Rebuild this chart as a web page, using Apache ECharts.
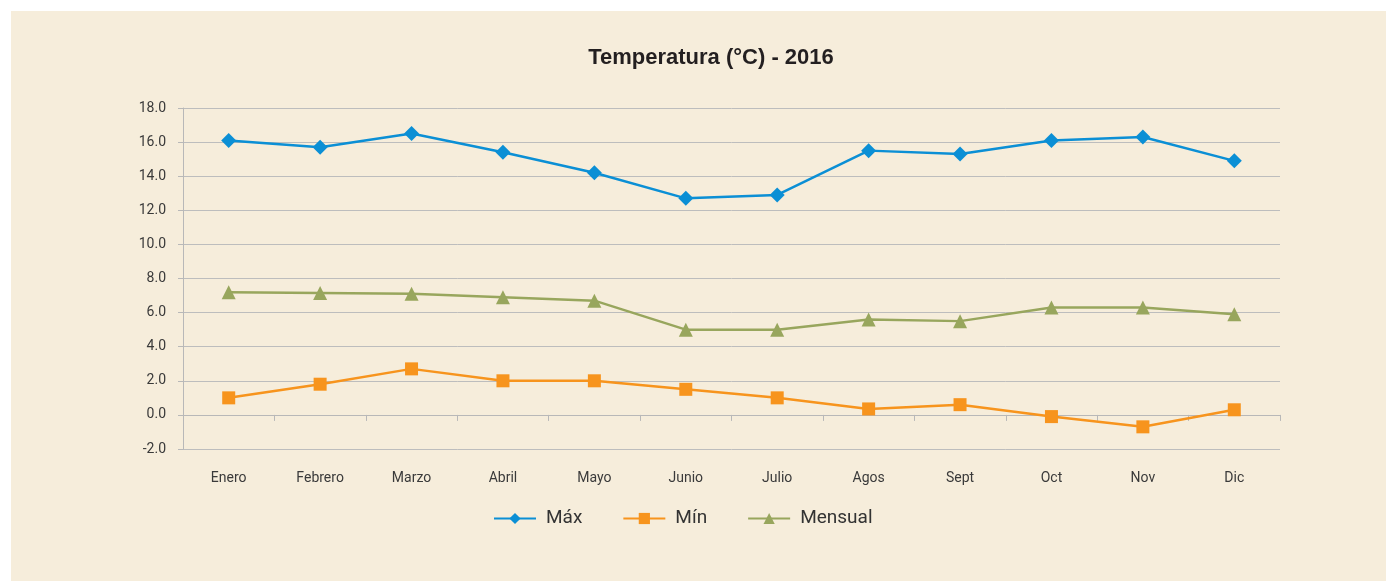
<!DOCTYPE html>
<html>
<head>
<meta charset="utf-8">
<title>Temperatura 2016</title>
<script src="https://cdn.jsdelivr.net/npm/echarts@6/dist/echarts.min.js"></script>
<style>
  html, body { margin: 0; padding: 0; background: #ffffff; overflow: hidden; }
  #chart { position: absolute; left: 0; top: 0; width: 1386px; height: 581px; }
</style>
</head>
<body>
<div id="chart"></div>
<script>
// meses
var months = ["Enero", "Febrero", "Marzo", "Abril", "Mayo", "Junio", "Julio", "Agos", "Sept", "Oct", "Nov", "Dic"];
// temperaturas (°C)
var tMax = [16.1, 15.7, 16.5, 15.4, 14.2, 12.7, 12.9, 15.5, 15.3, 16.1, 16.3, 14.9];
var tMin = [1.0, 1.8, 2.7, 2.0, 2.0, 1.5, 1.0, 0.35, 0.6, -0.1, -0.7, 0.3];
var tMensual = [7.2, 7.15, 7.1, 6.9, 6.7, 5.0, 5.0, 5.6, 5.5, 6.3, 6.3, 5.9];

var myChart = echarts.init(document.getElementById("chart"));

var labelFont = "Roboto, 'Liberation Sans', sans-serif";

var option = {
  animation: false,
  backgroundColor: "#ffffff",
  // recuadro beige de fondo
  graphic: [
    {
      type: "rect",
      left: 11,
      top: 11,
      z: -10,
      silent: true,
      shape: { width: 1375, height: 570 },
      style: { fill: "#f6eddb" }
    }
  ],
  title: {
    text: "Temperatura (°C) - 2016",
    left: 706,
    top: 42,
    textAlign: "center",
    textStyle: { fontFamily: "'Liberation Sans', Arial, sans-serif", fontWeight: "bold", fontSize: 22, color: "#231f20" }
  },
  legend: {
    left: 488,
    top: 504,
    itemWidth: 42,
    itemHeight: 14,
    itemGap: 40,
    textStyle: { fontFamily: labelFont, fontSize: 19, color: "#333333", padding: [0, 0, 0, 5] },
    data: ["Máx", "Mín", "Mensual"]
  },
  grid: { left: 183, right: 106, top: 108, bottom: 132 },
  xAxis: [
    {
      type: "category",
      data: months,
      position: "bottom",
      axisLine: { show: false, onZero: false },
      axisTick: { show: false },
      axisLabel: { margin: 22, fontFamily: labelFont, fontSize: 14, color: "#3a3a3a" }
    },
    {
      type: "category",
      data: months,
      position: "bottom",
      axisLine: { show: true, onZero: true, lineStyle: { color: "#b8b8b8", width: 1 } },
      axisTick: { show: true, length: 6, lineStyle: { color: "#b8b8b8" } },
      axisLabel: { show: false }
    }
  ],
  yAxis: {
    type: "value",
    min: -2,
    max: 18,
    interval: 2,
    axisLine: { show: true, lineStyle: { color: "#b8b8b8" } },
    axisTick: { show: true, length: 5, lineStyle: { color: "#b8b8b8" } },
    splitLine: { show: true, lineStyle: { color: "#bdbdbd", width: 1 } },
    axisLabel: {
      margin: 17,
      fontFamily: labelFont,
      fontSize: 14,
      color: "#3a3a3a",
      formatter: function (v) { return v.toFixed(1); }
    }
  },
  series: [
    {
      name: "Máx",
      type: "line",
      data: tMax,
      symbol: "diamond",
      symbolSize: 15,
      lineStyle: { color: "#0b8fd5", width: 2.5 },
      itemStyle: { color: "#0b8fd5" }
    },
    {
      name: "Mín",
      type: "line",
      data: tMin,
      symbol: "rect",
      symbolSize: 13,
      lineStyle: { color: "#f7941d", width: 2.5 },
      itemStyle: { color: "#f7941d" }
    },
    {
      name: "Mensual",
      type: "line",
      data: tMensual,
      symbol: "triangle",
      symbolSize: 14,
      lineStyle: { color: "#98a65d", width: 2.5 },
      itemStyle: { color: "#98a65d" }
    }
  ]
};

myChart.setOption(option);
</script>
</body>
</html>
